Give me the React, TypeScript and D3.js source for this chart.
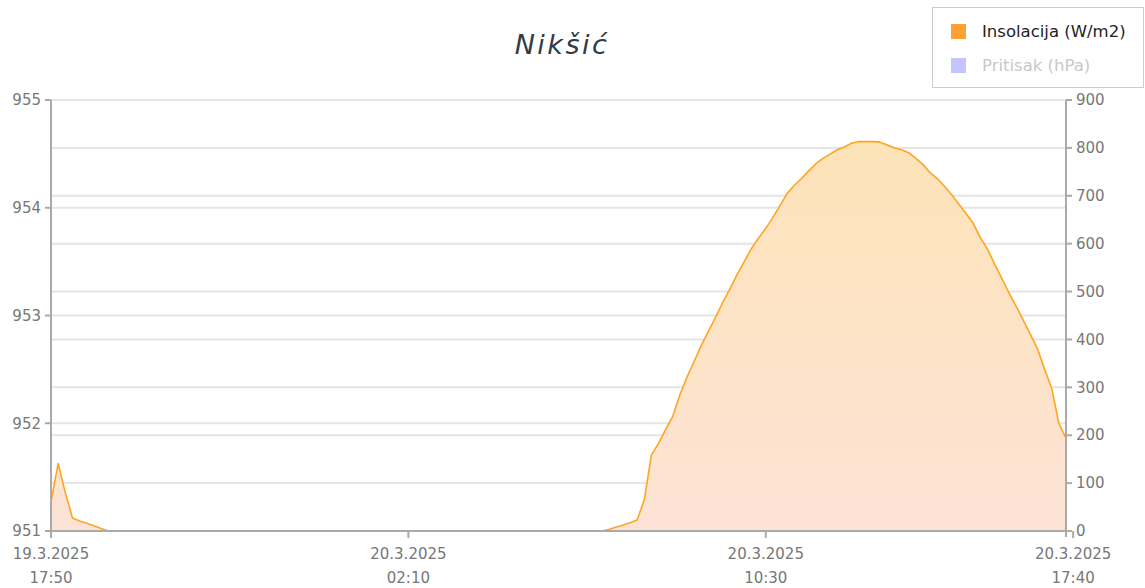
import React from "react";
import * as d3 from "d3";

const title = "Nikšić";
const startTime = new Date(2025, 2, 19, 17, 50);
const stepMinutes = 10;
// Insolacija (W/m2), one value every 10 minutes from 19.3.2025 17:50 to 20.3.2025 17:40
const insolation: number[] = [
  // 17:50 - 19:10
  61, 141, 80, 27, 21, 16, 11, 5, 0,
  // 19:20 - 06:40 (night)
  0, 0, 0, 0, 0, 0, 0, 0, 0, 0, 0, 0, 0, 0, 0, 0, 0, 0, 0, 0, 0, 0, 0, 0,
  0, 0, 0, 0, 0, 0, 0, 0, 0, 0, 0, 0, 0, 0, 0, 0, 0, 0, 0, 0, 0, 0, 0, 0,
  0, 0, 0, 0, 0, 0, 0, 0, 0, 0, 0, 0, 0, 0, 0, 0, 0, 0, 0, 0,
  // 06:50 - 08:00
  0, 3, 8, 12, 17, 23, 65, 159,
  // 08:10 - 10:00
  183, 212, 240, 285, 322, 355, 388, 418, 447, 478, 506, 536,
  // 10:10 - 12:00
  563, 590, 612, 632, 655, 680, 705, 722, 736, 752, 767, 778,
  // 12:10 - 14:00
  787, 796, 802, 810, 813, 813, 813, 812, 806, 800, 796, 790,
  // 14:10 - 16:00
  778, 765, 748, 736, 720, 702, 683, 663, 643, 613, 589, 558,
  // 16:10 - 17:40
  528, 498, 470, 441, 411, 381, 338, 298, 225, 194,
];
const pressureTicks = [951, 952, 953, 954, 955];
const insolationTicks = [0, 100, 200, 300, 400, 500, 600, 700, 800, 900];
const xTickLabels: [string, string][] = [
  ["19.3.2025", "17:50"],
  ["20.3.2025", "02:10"],
  ["20.3.2025", "10:30"],
  ["20.3.2025", "17:40"],
];
const legendItems = [
  { label: "Insolacija (W/m2)", color: "#ffa033", active: true },
  { label: "Pritisak (hPa)", color: "#c4c4ff", active: false },
];

const W = 1145;
const H = 588;
const left = 51;
const right = 1066;
const top = 100;
const bottom = 531;
const font = "'DejaVu Sans', Verdana, sans-serif";

export default function App() {
  const points = insolation.map((v, i) => ({
    t: new Date(startTime.getTime() + i * stepMinutes * 60000),
    v,
  }));
  const x = d3
    .scaleTime()
    .domain([points[0].t, points[points.length - 1].t])
    .range([left, right]);
  const yL = d3.scaleLinear().domain([951, 955]).range([bottom, top]);
  const yR = d3.scaleLinear().domain([0, 900]).range([bottom, top]);

  const area = d3
    .area<{ t: Date; v: number }>()
    .x((d) => x(d.t))
    .y0(yR(0))
    .y1((d) => yR(d.v));
  const line = d3
    .line<{ t: Date; v: number }>()
    .x((d) => x(d.t))
    .y((d) => yR(d.v));

  const parseTick = d3.timeParse("%d.%m.%Y %H:%M");
  const xTicks = xTickLabels.map(([d, t]) => {
    const [dd, mm, yy] = d.split(".");
    return { d, t, date: parseTick(`${dd.padStart(2, "0")}.${mm.padStart(2, "0")}.${yy} ${t}`)! };
  });

  return (
    <svg
      width={W}
      height={H}
      style={{ position: "absolute", left: 0, top: 0, fontFamily: font }}
    >
      <defs>
        <linearGradient id="fillGrad" gradientUnits="userSpaceOnUse" x1="0" y1={yR(810)} x2="0" y2={bottom}>
          <stop offset="0" stopColor="#fde3b8" />
          <stop offset="1" stopColor="#fde3d6" />
        </linearGradient>
      </defs>
      <rect width={W} height={H} fill="#fff" />
      {/* grid lines */}
      {pressureTicks.map((v) => (
        <line key={"gl" + v} x1={left} x2={right} y1={yL(v)} y2={yL(v)} stroke="#e5e5e5" strokeWidth={2} />
      ))}
      {insolationTicks.map((v) => (
        <line key={"gr" + v} x1={left} x2={right} y1={yR(v)} y2={yR(v)} stroke="#e5e5e5" strokeWidth={2} />
      ))}
      {/* area */}
      <path d={area(points)!} fill="url(#fillGrad)" />
      <path d={line(points)!} fill="none" stroke="#ffa51f" strokeWidth={1.6} strokeLinejoin="round" />
      {/* axes lines */}
      <line x1={left} x2={left} y1={top} y2={bottom + 6} stroke="#aaa" strokeWidth={2} />
      <line x1={right} x2={right} y1={top} y2={bottom + 6} stroke="#aaa" strokeWidth={2} />
      <line x1={left} x2={right} y1={bottom} y2={bottom} stroke="#aaa" strokeWidth={2} />
      {/* left ticks */}
      {pressureTicks.map((v) => (
        <g key={"lt" + v}>
          <line x1={left - 6} x2={left} y1={yL(v)} y2={yL(v)} stroke="#aaa" strokeWidth={2} />
          <text x={left - 10} y={yL(v)} dy="0.35em" textAnchor="end" fontSize={15} fill="#777">
            {v}
          </text>
        </g>
      ))}
      {/* right ticks */}
      {insolationTicks.map((v) => (
        <g key={"rt" + v}>
          <line x1={right} x2={right + 6} y1={yR(v)} y2={yR(v)} stroke="#aaa" strokeWidth={2} />
          <text x={right + 10} y={yR(v)} dy="0.35em" textAnchor="start" fontSize={15} fill="#777">
            {v}
          </text>
        </g>
      ))}
      {/* x ticks */}
      {xTicks.map((tk, i) => (
        <g key={"xt" + i}>
          <line x1={x(tk.date)} x2={x(tk.date)} y1={bottom} y2={bottom + 7} stroke="#aaa" strokeWidth={2} />
          <text x={x(tk.date)} y={559} textAnchor="middle" fontSize={15} fill="#777">
            {tk.d}
          </text>
          <text x={x(tk.date)} y={583} textAnchor="middle" fontSize={15} fill="#777">
            {tk.t}
          </text>
        </g>
      ))}
      {/* title */}
      <text x={562} y={54} textAnchor="middle" fontSize={27} fontStyle="italic" letterSpacing={2.5} fill="#333a45">
        {title}
      </text>
      {/* legend */}
      <rect x={932.5} y={7.5} width={211} height={80} fill="#fff" stroke="#ccc" strokeWidth={1} />
      {legendItems.map((it, i) => (
        <g key={"lg" + i}>
          <rect x={951} y={24 + i * 34} width={15} height={15} fill={it.color} />
          <text x={982} y={31.5 + i * 34} dy="0.35em" fontSize={16.5} fill={it.active ? "#222" : "#c8c8c8"}>
            {it.label}
          </text>
        </g>
      ))}
    </svg>
  );
}
